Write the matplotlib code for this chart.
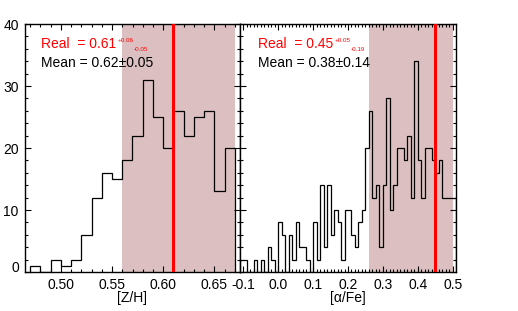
import matplotlib
matplotlib.use('Agg')
import matplotlib.pyplot as plt
import numpy as np
from matplotlib.ticker import MultipleLocator, FormatStrFormatter

plt.rcParams['font.family'] = ['Liberation Sans', 'DejaVu Sans']

# ---------------- data ----------------
zh_first_edge = 0.47
zh_bin_width = 0.01
zh_counts = [1, 0, 2, 1, 2, 6, 12, 16, 15, 18, 22, 31, 25, 20, 26, 22, 25, 26, 13, 20]
zh_real = 0.61
zh_err_plus = 0.06
zh_err_minus = 0.05
zh_mean = 0.62
zh_std = 0.05

afe_first_edge = -0.11
afe_bin_width = 0.01
afe_counts = [2, 2, 0, 0, 2, 0, 2, 0, 4, 2,
              0, 8, 6, 0, 6, 2, 8, 4, 4, 2,
              0, 8, 2, 14, 4, 14, 6, 10, 8, 2,
              10, 10, 6, 4, 8, 10, 20, 26, 12, 14,
              4, 14, 28, 10, 14, 20, 20, 18, 22, 12,
              34, 18, 12, 20, 20, 18, 16, 18, 12, 12,
              12, 12]
afe_real = 0.45
afe_err_plus = 0.05
afe_err_minus = 0.19
afe_mean = 0.38
afe_std = 0.14

zh_ticks = [0.50, 0.55, 0.60, 0.65]
afe_ticks = [-0.1, 0.0, 0.1, 0.2, 0.3, 0.4, 0.5]
y_ticks = [0, 10, 20, 30, 40]

# ---------------- figure ----------------
W, H = 518, 311
fig = plt.figure(figsize=(W / 100, H / 100), dpi=100)
ax1 = fig.add_axes([25 / W, 39 / H, 215 / W, 248 / H])
ax2 = fig.add_axes([240 / W, 39 / H, 216 / W, 248 / H])

shade = '#dcbfc1'


def panel(ax, first, width, counts, real, ep, em, mean, std, xlim, ticks, fmt,
          major, xlabel, show_y):
    edges = np.round(first + width * np.arange(len(counts) + 1), 4)
    ax.axvspan(real - em, real + ep, color=shade, lw=0, zorder=0)
    ax.stairs(counts, edges, baseline=0, color='black', lw=0.9, zorder=2)
    ax.axvline(real, color='red', lw=2.2, zorder=3)
    ax.set_xlim(*xlim)
    ax.set_ylim(0, 40)
    ax.set_xticks(ticks)
    ax.xaxis.set_major_formatter(FormatStrFormatter(fmt))
    ax.xaxis.set_minor_locator(MultipleLocator(0.01))
    ax.set_yticks(y_ticks)
    ax.yaxis.set_minor_locator(MultipleLocator(2))
    ax.tick_params(which='both', direction='in', top=True, right=True,
                   labelsize=10, width=0.8, pad=4.5)
    ax.tick_params(which='major', length=4)
    ax.tick_params(which='minor', length=2)
    if not show_y:
        ax.tick_params(labelleft=False)
    for s in ax.spines.values():
        s.set_linewidth(1.0)
    ax.set_xlabel(xlabel, fontsize=10, labelpad=-1)

    x0 = 0.0744 if show_y else 0.082
    t = ax.text(x0, 0.902, f'Real  = {real:.2f}', color='red', fontsize=10,
                transform=ax.transAxes, ha='left', va='baseline')
    sup = ax.annotate(f'+{ep:.2f}', xy=(1, 0), xycoords=t, xytext=(2, 9.5),
                      textcoords='offset pixels', fontsize=4.5, color='red',
                      ha='left', va='baseline')
    ax.annotate(f'-{em:.2f}', xy=(1, 0), xycoords=sup, xytext=(0, -7.7),
                textcoords='offset pixels', fontsize=4.5, color='red',
                ha='left', va='baseline')
    ax.text(x0, 0.828, f'Mean = {mean:.2f}\u00b1{std:.2f}', color='black',
            fontsize=10, transform=ax.transAxes, ha='left', va='baseline')


panel(ax1, zh_first_edge, zh_bin_width, zh_counts, zh_real, zh_err_plus,
      zh_err_minus, zh_mean, zh_std, (0.465, 0.675), zh_ticks, '%.2f',
      0.05, '[Z/H]', True)
panel(ax2, afe_first_edge, afe_bin_width, afe_counts, afe_real, afe_err_plus,
      afe_err_minus, afe_mean, afe_std, (-0.1086, 0.5086), afe_ticks, '%.1f',
      0.1, '[\u03b1/Fe]', False)

# IDL-like placement of the lowest y label
fig.canvas.draw()
labs = ax1.get_yticklabels()
labs[0].set_va('baseline')

fig.savefig('out.png', dpi=100)
